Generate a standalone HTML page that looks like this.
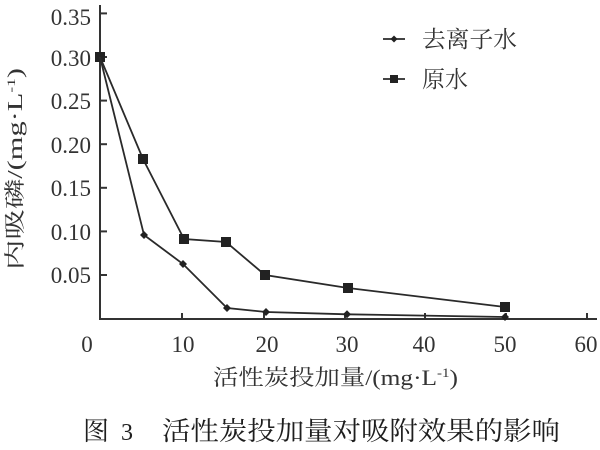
<!DOCTYPE html>
<html>
<head>
<meta charset="utf-8">
<style>
  html,body{margin:0;padding:0;background:#fff;}
  svg{display:block;}
  .num{font-family:"Liberation Serif",serif;font-size:23px;fill:#333;}
  .cjk{font-family:"Liberation Serif","Noto Serif CJK SC",serif;fill:#333;}
</style>
</head>
<body>
<svg width="600" height="450" viewBox="0 0 600 450" xmlns="http://www.w3.org/2000/svg">
  <!-- axes -->
  <g stroke="#333" stroke-width="2" fill="none">
    <line x1="100" y1="5" x2="100" y2="319.5"/>
    <line x1="99" y1="319" x2="597" y2="319"/>
    <!-- y ticks -->
    <line x1="100" y1="13.4" x2="107" y2="13.4"/>
    <line x1="100" y1="57" x2="107" y2="57"/>
    <line x1="100" y1="100.6" x2="107" y2="100.6"/>
    <line x1="100" y1="144.2" x2="107" y2="144.2"/>
    <line x1="100" y1="187.8" x2="107" y2="187.8"/>
    <line x1="100" y1="231.4" x2="107" y2="231.4"/>
    <line x1="100" y1="275" x2="107" y2="275"/>
    <!-- x ticks -->
    <line x1="182" y1="319" x2="182" y2="313"/>
    <line x1="264" y1="319" x2="264" y2="313"/>
    <line x1="345" y1="319" x2="345" y2="313"/>
    <line x1="425" y1="319" x2="425" y2="313"/>
    <line x1="506" y1="319" x2="506" y2="313"/>
    <line x1="587" y1="319" x2="587" y2="313"/>
  </g>

  <!-- y tick labels -->
  <g class="num" text-anchor="end">
    <text x="91" y="25">0.35</text>
    <text x="91" y="66">0.30</text>
    <text x="91" y="109">0.25</text>
    <text x="91" y="153">0.20</text>
    <text x="91" y="196">0.15</text>
    <text x="91" y="240">0.10</text>
    <text x="91" y="283">0.05</text>
  </g>

  <!-- x tick labels -->
  <g class="num" text-anchor="middle">
    <text x="87" y="352">0</text>
    <text x="183" y="352">10</text>
    <text x="267" y="352">20</text>
    <text x="347" y="352">30</text>
    <text x="424" y="352">40</text>
    <text x="505" y="352">50</text>
    <text x="586" y="352">60</text>
  </g>

  <!-- series: 原水 (squares) -->
  <polyline fill="none" stroke="#2a2a2a" stroke-width="1.8"
    points="100,57 143,159 184,239 226,242 265,275 348,288 505,307"/>
  <g fill="#222">
    <rect x="95" y="52" width="10" height="10"/>
    <rect x="138" y="154" width="10" height="10"/>
    <rect x="179" y="234" width="10" height="10"/>
    <rect x="221" y="237" width="10" height="10"/>
    <rect x="260" y="270" width="10" height="10"/>
    <rect x="343" y="283" width="10" height="10"/>
    <rect x="500" y="302" width="10" height="10"/>
  </g>

  <!-- series: 去离子水 (diamonds) -->
  <polyline fill="none" stroke="#2a2a2a" stroke-width="1.8"
    points="100,57 144,235 183,264 227,308 266,312 347,314.3 505,317"/>
  <g fill="#222">
    <polygon points="144,231 148,235 144,239 140,235"/>
    <polygon points="183,260 187,264 183,268 179,264"/>
    <polygon points="227,304 231,308 227,312 223,308"/>
    <polygon points="266,308 270,312 266,316 262,312"/>
    <polygon points="347,310.3 351,314.3 347,318.3 343,314.3"/>
    <polygon points="505,313 509,317 505,321 501,317"/>
  </g>

  <!-- legend -->
  <line x1="383" y1="39" x2="405" y2="39" stroke="#2a2a2a" stroke-width="1.8"/>
  <polygon points="394,35.5 397.5,39 394,42.5 390.5,39" fill="#222"/>
  <text class="cjk" x="422" y="47" font-size="23" textLength="95" lengthAdjust="spacingAndGlyphs">去离子水</text>
  <line x1="383" y1="79" x2="405" y2="79" stroke="#2a2a2a" stroke-width="1.8"/>
  <rect x="390" y="75" width="8" height="8" fill="#222"/>
  <text class="cjk" x="422" y="87" font-size="23" textLength="46" lengthAdjust="spacingAndGlyphs">原水</text>

  <!-- x axis title -->
  <text class="cjk" x="213" y="385" font-size="22" textLength="245" lengthAdjust="spacingAndGlyphs">活性炭投加量/(mg·L<tspan dy="-8" font-size="13">-1</tspan><tspan dy="8">)</tspan></text>

  <!-- y axis title -->
  <text class="cjk" transform="translate(22,270) rotate(-90)" x="0" y="0" font-size="21" textLength="202" lengthAdjust="spacingAndGlyphs">内吸磷/(mg·L<tspan dy="-7" font-size="12">-1</tspan><tspan dy="7">)</tspan></text>

  <!-- caption -->
  <g style="font-family:'Liberation Serif','Noto Serif CJK SC',serif;fill:#1e1e1e;">
    <text x="83" y="440" font-size="26">图</text>
    <text x="121" y="440" font-size="24">3</text>
    <text x="162" y="440" font-size="26" textLength="398" lengthAdjust="spacingAndGlyphs">活性炭投加量对吸附效果的影响</text>
  </g>
</svg>
</body>
</html>
